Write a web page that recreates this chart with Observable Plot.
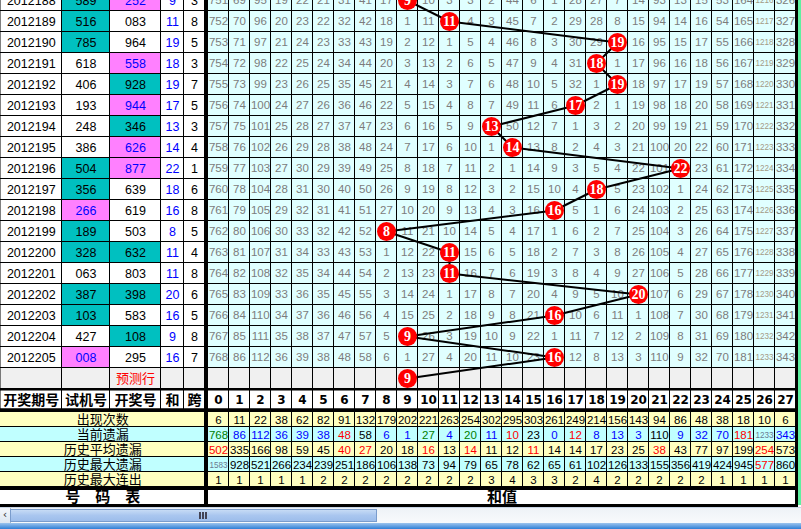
<!DOCTYPE html>
<html><head><meta charset="utf-8">
<script src="https://cdn.jsdelivr.net/npm/d3@7"></script>
<script src="https://cdn.jsdelivr.net/npm/@observablehq/plot@0.6"></script>
<style>
html,body{margin:0;padding:0;background:#fff;overflow:hidden;width:801px;height:529px;}
#chart svg{display:block;}
#sb{position:absolute;left:0;top:507px;width:801px;height:16px;background:linear-gradient(#eef2f7,#f8fafc);border-top:1px solid #c8d4e4;box-sizing:border-box;}
#sbBtn{position:absolute;left:0;top:0;width:10px;height:15px;background:linear-gradient(#f4f7fb,#dde6f1);border-right:1px solid #a8b8cc;font:11px "DejaVu Sans";color:#333;line-height:14px;text-align:center;}
#sbThumb{position:absolute;left:10px;top:1px;width:367px;height:13px;background:linear-gradient(#c6dbf5,#a9c6ef 50%,#9dbdeb);border:1px solid #7a9ccc;box-sizing:border-box;}
#sbGrip{position:absolute;left:188px;top:2px;width:8px;height:7px;border-left:2px solid #445;border-right:2px solid #445;box-sizing:border-box;}
#sbGrip:after{content:"";position:absolute;left:1px;top:0;width:2px;height:7px;background:#445;}
#task{position:absolute;left:0;top:523px;width:801px;height:6px;background:linear-gradient(#9cc4ee,#2f7fd6);}
</style></head><body>
<div id="chart"></div>
<div id="sb"><div id="sbBtn">&lsaquo;</div><div id="sbThumb"><div id="sbGrip"></div></div></div>
<div id="task"></div>
<script>
// ---------- data ----------
const periods = ["2012188","2012189","2012190","2012191","2012192","2012193","2012194","2012195","2012196","2012197","2012198","2012199","2012200","2012201","2012202","2012203","2012204","2012205"];
const trialNums = ["589","516","785","618","406","193","248","386","504","356","266","189","328","063","387","103","427","008"];
const trialKind = ["t","t","t","","","","","","t","t","p","t","t","","t","t","","p"];
const drawNums = ["252","083","964","558","928","944","346","626","877","639","619","503","632","803","398","583","108","295"];
const drawKind = ["p","","","p","t","p","t","p","p","","","","t","","t","","t",""];
const sums = [9,11,19,18,19,17,13,14,22,18,16,8,11,11,20,16,9,16];
const spans = [3,8,5,3,7,5,3,4,1,6,8,5,4,8,6,5,8,7];
const predictedSum = 9;
const sumColumns = d3.range(0, 28);
const omissions = [
 [751,69,95,19,22,21,31,41,17,0,10,3,3,2,44,6,1,28,27,7,14,93,13,15,53,164,1216,326],
 [752,70,96,20,23,22,32,42,18,1,11,0,4,3,45,7,2,29,28,8,15,94,14,16,54,165,1217,327],
 [753,71,97,21,24,23,33,43,19,2,12,1,5,4,46,8,3,30,29,0,16,95,15,17,55,166,1218,328],
 [754,72,98,22,25,24,34,44,20,3,13,2,6,5,47,9,4,31,0,1,17,96,16,18,56,167,1219,329],
 [755,73,99,23,26,25,35,45,21,4,14,3,7,6,48,10,5,32,1,0,18,97,17,19,57,168,1220,330],
 [756,74,100,24,27,26,36,46,22,5,15,4,8,7,49,11,6,0,2,1,19,98,18,20,58,169,1221,331],
 [757,75,101,25,28,27,37,47,23,6,16,5,9,0,50,12,7,1,3,2,20,99,19,21,59,170,1222,332],
 [758,76,102,26,29,28,38,48,24,7,17,6,10,1,0,13,8,2,4,3,21,100,20,22,60,171,1223,333],
 [759,77,103,27,30,29,39,49,25,8,18,7,11,2,1,14,9,3,5,4,22,101,0,23,61,172,1224,334],
 [760,78,104,28,31,30,40,50,26,9,19,8,12,3,2,15,10,4,0,5,23,102,1,24,62,173,1225,335],
 [761,79,105,29,32,31,41,51,27,10,20,9,13,4,3,16,0,5,1,6,24,103,2,25,63,174,1226,336],
 [762,80,106,30,33,32,42,52,0,11,21,10,14,5,4,17,1,6,2,7,25,104,3,26,64,175,1227,337],
 [763,81,107,31,34,33,43,53,1,12,22,0,15,6,5,18,2,7,3,8,26,105,4,27,65,176,1228,338],
 [764,82,108,32,35,34,44,54,2,13,23,0,16,7,6,19,3,8,4,9,27,106,5,28,66,177,1229,339],
 [765,83,109,33,36,35,45,55,3,14,24,1,17,8,7,20,4,9,5,10,0,107,6,29,67,178,1230,340],
 [766,84,110,34,37,36,46,56,4,15,25,2,18,9,8,21,0,10,6,11,1,108,7,30,68,179,1231,341],
 [767,85,111,35,38,37,47,57,5,0,26,3,19,10,9,22,1,11,7,12,2,109,8,31,69,180,1232,342],
 [768,86,112,36,39,38,48,58,6,1,27,4,20,11,10,23,0,12,8,13,3,110,9,32,70,181,1233,343]
];
const leftHeaders = ["开奖期号","试机号","开奖号","和","跨"];
const statLabels = ["出现次数","当前遗漏","历史平均遗漏","历史最大遗漏","历史最大连出"];
const appearCount = [6,11,22,38,62,82,91,132,179,202,221,263,254,302,295,303,261,249,214,156,143,94,86,48,38,18,10,6];
const currentMiss = [768,86,112,36,39,38,48,58,6,1,27,4,20,11,10,23,0,12,8,13,3,110,9,32,70,181,1233,343];
const avgMiss = [502,335,166,98,59,45,40,27,20,18,16,13,14,11,12,11,14,14,17,23,25,38,43,77,97,199,254,573];
const maxMiss = [1583,928,521,266,234,239,251,186,106,138,73,94,79,65,78,62,65,61,102,126,133,155,356,419,424,945,577,860];
const maxRun = [1,1,1,1,1,2,2,2,2,2,2,2,2,3,4,3,3,2,4,2,2,2,2,2,1,1,1,1];
// colour codes of the stat values (k black, r red, b blue, g green, x faded)
const appearTone = Array(28).fill("k");
const currentTone = ["g","b","b","b","b","b","r","k","b","b","g","b","g","b","r","k","b","r","b","b","b","k","b","b","b","r","x","b"];
const avgTone = ["r","k","k","k","k","k","r","r","k","k","r","k","r","k","k","r","k","k","k","k","k","r","k","k","k","k","r","k"];
const maxTone = ["x","k","k","k","k","k","k","k","k","k","k","k","k","k","k","k","k","k","k","k","k","k","k","k","k","k","r","k"];
const runTone = Array(28).fill("k");
const bottomLeft = "号　码　表";
const bottomRight = "和值";
const predLabel = "预测行";

// ---------- layout ----------
const W = 801, H = 507;
const GX0 = 207.5, CW = 21, RH = 21, ROW0 = -10.5;
const LB = [0, 61.5, 109.5, 160.5, 183.5, 204.5];
const colL = c => GX0 + c * CW, colC = c => GX0 + c * CW + CW / 2;
const rowT = r => ROW0 + r * RH, rowC = r => ROW0 + r * RH + RH / 2;
const leftC = i => (LB[i] + LB[i + 1]) / 2;
const nR = periods.length, predR = nR;
const HDR = [390, 409];
const ST0 = 411.5, SH = 15;
const BOT = [489.5, 504.5];
const TONE = {k:"#000000", r:"#ff0000", b:"#0000ff", g:"#008000", x:"#6a7a92"};
const TEAL = "#00c0c0", PINK = "#ff80ff", CELL = "#e0ffff", SY = "#ffffc0", SC = "#c0ffff", PG = "#f0f0f0";

const cells = [];
const add = (x1, x2, y1, y2, fill) => cells.push({x1, x2, y1, y2, fill});
for (let r = 0; r < nR; r++) {
  for (let i = 0; i < 5; i++) {
    let f = "#ffffff";
    if (i === 1) f = trialKind[r] === "t" ? TEAL : trialKind[r] === "p" ? PINK : f;
    if (i === 2) f = drawKind[r] === "t" ? TEAL : drawKind[r] === "p" ? PINK : f;
    add(LB[i], LB[i + 1], rowT(r), rowT(r + 1), f);
  }
  sumColumns.forEach(c => add(colL(c), colL(c + 1), rowT(r), rowT(r + 1), CELL));
}
for (let i = 0; i < 5; i++) add(LB[i], LB[i + 1], rowT(predR), rowT(predR + 1), PG);
sumColumns.forEach(c => add(colL(c), colL(c + 1), rowT(predR), rowT(predR + 1), PG));
for (let i = 0; i < 5; i++) add(LB[i], LB[i + 1], HDR[0], HDR[1], "#ffffff");
sumColumns.forEach(c => add(colL(c), colL(c + 1), HDR[0], HDR[1], "#ffffff"));
statLabels.forEach((s, k) => {
  const f = k % 2 ? SC : SY;
  add(-1, LB[5], ST0 + k * SH, ST0 + (k + 1) * SH, f);
  sumColumns.forEach(c => add(colL(c), colL(c + 1), ST0 + k * SH, ST0 + (k + 1) * SH, f));
});
add(-1, LB[5], BOT[0], BOT[1], "#ffffff");
add(colL(0), colL(28), BOT[0], BOT[1], "#ffffff");

const thick = [
  {x1: LB[5] - 0.5, x2: GX0, y1: -20, y2: 507, fill: "#000"},
  {x1: colL(28), x2: 798, y1: -20, y2: 507, fill: "#000"},
  {x1: 798, x2: 801, y1: -20, y2: 505, fill: "#5ef0a0"},
  {x1: -1, x2: 798, y1: 388, y2: 390, fill: "#000"},
  {x1: -1, x2: 798, y1: 408.5, y2: 411.5, fill: "#000"},
  {x1: -1, x2: 798, y1: 486.5, y2: 489.5, fill: "#000"},
  {x1: -1, x2: 798, y1: 504.5, y2: 507, fill: "#000"}
];

// texts
const leftTexts = [];
periods.forEach((p, r) => {
  leftTexts.push({x: leftC(0), y: rowC(r), t: p, f: "#000"});
  leftTexts.push({x: leftC(1), y: rowC(r), t: trialNums[r], f: trialKind[r] === "p" ? "#0000ff" : "#000"});
  leftTexts.push({x: leftC(2), y: rowC(r), t: drawNums[r], f: drawKind[r] === "p" ? "#0000ff" : "#000"});
  leftTexts.push({x: leftC(3), y: rowC(r), t: String(sums[r]), f: "#0000ff"});
  leftTexts.push({x: leftC(4), y: rowC(r), t: String(spans[r]), f: "#000"});
});
const gridTexts = [], gridWide = [];
omissions.forEach((row, r) => row.forEach((v, c) => {
  if (v === 0) return;
  const d = {x: colC(c), y: rowC(r), t: String(v)};
  (String(v).length > 3 ? gridWide : gridTexts).push(d);
}));
const headTexts = leftHeaders.map((h, i) => ({x: leftC(i), y: (HDR[0] + HDR[1]) / 2 + 0.5, t: h}));
const headNums = sumColumns.map(c => ({x: colC(c), y: (HDR[0] + HDR[1]) / 2 + 0.5, t: String(c)}));
const statVals = [appearCount, currentMiss, avgMiss, maxMiss, maxRun];
const statTones = [appearTone, currentTone, avgTone, maxTone, runTone];
const statTexts = [], statWide = [];
statVals.forEach((vals, k) => vals.forEach((v, c) => {
  const d = {x: colC(c), y: ST0 + k * SH + SH / 2 + 0.5, t: String(v), f: TONE[statTones[k][c]]};
  (String(v).length > 3 ? statWide : statTexts).push(d);
}));
const statLabelTexts = statLabels.map((s, k) => ({x: LB[5] / 2, y: ST0 + k * SH + SH / 2 + 0.5, t: s}));
const path = sums.map((s, r) => ({x: colC(s), y: rowC(r), s})).concat([{x: colC(predictedSum), y: rowC(predR), s: predictedSum}]);

const NUMF = "Liberation Sans", CJK = "Noto Sans CJK SC";
const chart = Plot.plot({
  width: W, height: H, margin: 0,
  x: {type: "linear", domain: [0, W], range: [0, W], axis: null},
  y: {type: "linear", domain: [0, H], range: [0, H], axis: null},
  color: {type: "identity"},
  style: {background: "#fff"},
  marks: [
    Plot.rect(cells, {x1: "x1", x2: "x2", y1: "y1", y2: "y2", fill: "fill", stroke: "#000", strokeWidth: 1}),
    Plot.rect(thick, {x1: "x1", x2: "x2", y1: "y1", y2: "y2", fill: "fill"}),
    Plot.text(leftTexts, {x: "x", y: "y", text: "t", fill: "f", fontFamily: NUMF, fontSize: 12.5}),
    Plot.text([{x: leftC(2), y: rowC(predR), t: predLabel}], {x: "x", y: "y", text: "t", fill: "#ff0000", fontFamily: CJK, fontSize: 13}),
    Plot.text(gridTexts, {x: "x", y: "y", text: "t", fill: "#7c7c7c", fontFamily: NUMF, fontSize: 11.5}),
    Plot.text(gridWide, {x: "x", y: "y", text: "t", fill: "#a39a86", fontFamily: NUMF, fontSize: 9, className: "cond"}),
    Plot.text(headTexts, {x: "x", y: "y", text: "t", fill: "#000", fontFamily: CJK, fontWeight: "bold", fontSize: 14}),
    Plot.text(headNums, {x: "x", y: "y", text: "t", fill: "#000", fontFamily: "DejaVu Sans", fontWeight: "bold", fontSize: 12}),
    Plot.text(statTexts, {x: "x", y: "y", text: "t", fill: "f", fontFamily: NUMF, fontSize: 11.5}),
    Plot.text(statWide, {x: "x", y: "y", text: "t", fill: "f", fontFamily: NUMF, fontSize: 9, className: "cond"}),
    Plot.text(statLabelTexts, {x: "x", y: "y", text: "t", fill: "#000", fontFamily: CJK, fontSize: 13}),
    Plot.text([{x: LB[5] / 2, y: (BOT[0] + BOT[1]) / 2, t: bottomLeft}], {x: "x", y: "y", text: "t", fill: "#000", fontFamily: CJK, fontWeight: "bold", fontSize: 15}),
    Plot.text([{x: (colL(0) + colL(28)) / 2, y: (BOT[0] + BOT[1]) / 2, t: bottomRight}], {x: "x", y: "y", text: "t", fill: "#000", fontFamily: CJK, fontWeight: "bold", fontSize: 15}),
    Plot.line(path, {x: "x", y: "y", stroke: "#000", strokeWidth: 2}),
    Plot.dot(path, {x: "x", y: "y", r: 9.5, fill: "#ff0000", stroke: "none"}),
    Plot.text(path, {x: "x", y: "y", text: d => String(d.s), fill: "#fff", fontFamily: "Liberation Serif", fontWeight: "bold", fontSize: 14, dy: 0.5})
  ]
});
d3.select(chart).selectAll("g.cond text").attr("textLength", 18).attr("lengthAdjust", "spacingAndGlyphs");
document.getElementById("chart").appendChild(chart);
</script>
</body></html>
